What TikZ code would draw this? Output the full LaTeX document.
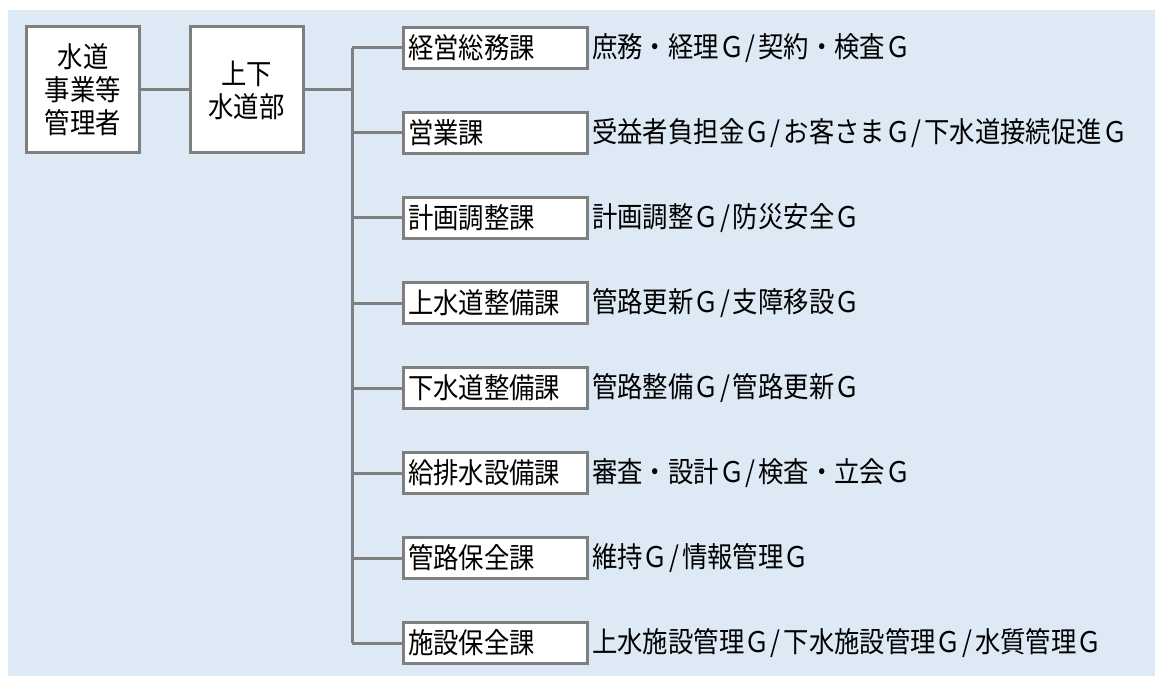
\documentclass[tikz,border=0pt]{standalone}
\usepackage{fontspec}
\newfontfamily\jp[FakeStretch=0.89]{Noto Sans CJK JP}
\newcommand{\gsep}{\kern1pt/\kern3pt}
\definecolor{bg}{HTML}{DDEAF6}
\definecolor{ln}{HTML}{7F7F7F}
\tikzset{
  topbox/.style={draw=ln, line width=3pt, fill=white, minimum width=113pt, minimum height=126pt,
    align=center, inner sep=0pt, font=\jp\fontsize{28.5}{33}\selectfont},
  divbox/.style={draw=ln, line width=3pt, fill=white, minimum height=41pt, anchor=west,
    text width=174pt, align=left, inner xsep=5pt, inner ysep=0pt, font=\jp\fontsize{28.5}{30}\selectfont},
  grp/.style={anchor=west, inner sep=0pt, font=\jp\fontsize{28.5}{30}\selectfont},
  conn/.style={draw=ln, line width=3pt}
}
\begin{document}
\begin{tikzpicture}[x=1pt,y=-1pt]
\useasboundingbox (0,0) rectangle (1155,676);
\fill[bg] (8,10) rectangle (1155,676);
\node[topbox] (mgr) at (83,90) {水道\\事業等\\管理者};
\node[topbox] (dept) at (246.5,90) {上下\\水道部};
\coordinate (j) at (352,90);
\node[divbox] (d1) at (401.5,48) {経営総務課};
\node[divbox] (d2) at (401.5,133) {営業課};
\node[divbox] (d3) at (401.5,218) {計画調整課};
\node[divbox] (d4) at (401.5,303) {上水道整備課};
\node[divbox] (d5) at (401.5,388) {下水道整備課};
\node[divbox] (d6) at (401.5,473) {給排水設備課};
\node[divbox] (d7) at (401.5,558) {管路保全課};
\node[divbox] (d8) at (401.5,643) {施設保全課};
\node[grp] (g1) at (592,48) {庶務・経理Ｇ\gsep 契約・検査Ｇ};
\node[grp] (g2) at (592,133) {受益者負担金Ｇ\gsep お客さまＧ\gsep 下水道接続促進Ｇ};
\node[grp] (g3) at (592,218) {計画調整Ｇ\gsep 防災安全Ｇ};
\node[grp] (g4) at (592,303) {管路更新Ｇ\gsep 支障移設Ｇ};
\node[grp] (g5) at (592,388) {管路整備Ｇ\gsep 管路更新Ｇ};
\node[grp] (g6) at (592,473) {審査・設計Ｇ\gsep 検査・立会Ｇ};
\node[grp] (g7) at (592,558) {維持Ｇ\gsep 情報管理Ｇ};
\node[grp] (g8) at (592,643) {上水施設管理Ｇ\gsep 下水施設管理Ｇ\gsep 水質管理Ｇ};
\draw[conn] (mgr.east) -- (dept.west);
\draw[conn] (dept.east) -- (j);
\draw[conn] (d1.west -| j) -- (d8.west -| j);
\foreach \i in {1,...,8} \draw[conn] (d\i.west -| j) -- (d\i.west);
\end{tikzpicture}
\end{document}
